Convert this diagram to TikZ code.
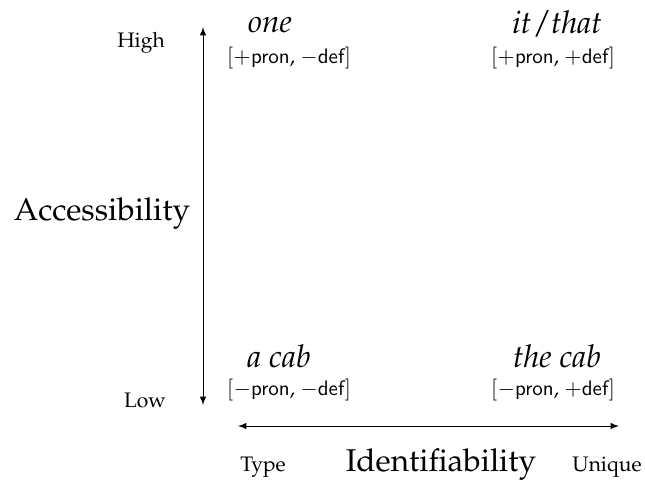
\documentclass[tikz,border=0pt]{standalone}
\usepackage[T1]{fontenc}
\usepackage{mathpazo}
\usepackage{amsmath}
\usepackage{tikz}
\usetikzlibrary{arrows}
\tikzset{
  scalelab/.style={font=\normalsize},
  axislab/.style={font=\fontsize{15}{18}\selectfont},
  wordlab/.style={font=\fontsize{15}{18}\selectfont\itshape},
  featlab/.style={font=\normalsize},
  axisarrow/.style={latex-latex}
}
\newcommand{\sftxt}[1]{{\fontencoding{OT1}\fontfamily{cmss}\selectfont #1}}
\newcommand{\feat}[2]{$[$#1\sftxt{pron}, #2\sftxt{def}$]$}

\begin{document}
\begin{tikzpicture}[x=0.476pt,y=-0.476pt]
\useasboundingbox(0,0)rectangle(645,485);
%axes
\coordinate(acctop)at(203,27);
\coordinate(accbot)at(203,405);
\coordinate(idleft)at(238,426);
\coordinate(idright)at(619,426);
\draw[axisarrow](acctop)--(accbot);
\draw[axisarrow](idleft)--(idright);
%axis labels
\node[axislab](acc)at(102,214){Accessibility};
\node[scalelab](high)at(141,43){High};
\node[scalelab](low)at(145,400){Low};
\node[axislab](ident)at(441,465){Identifiability};
\node[scalelab](type)at(263,467){Type};
\node[scalelab](uniq)at(607,467){Unique};
%words
\node[wordlab](one)at(270,25){one};
\node[featlab](onef)at(289,58){\feat{$+$}{$-$}};
\node[wordlab](itthat)at(557,24){it\,/\,that};
\node[featlab](itthatf)at(553,58){\feat{$+$}{$+$}};
\node[wordlab](acab)at(279,356){a cab};
\node[featlab](acabf)at(289,390){\feat{$-$}{$-$}};
\node[wordlab](thecab)at(557,356){the cab};
\node[featlab](thecabf)at(553,390){\feat{$-$}{$+$}};
\end{tikzpicture}
\end{document}
